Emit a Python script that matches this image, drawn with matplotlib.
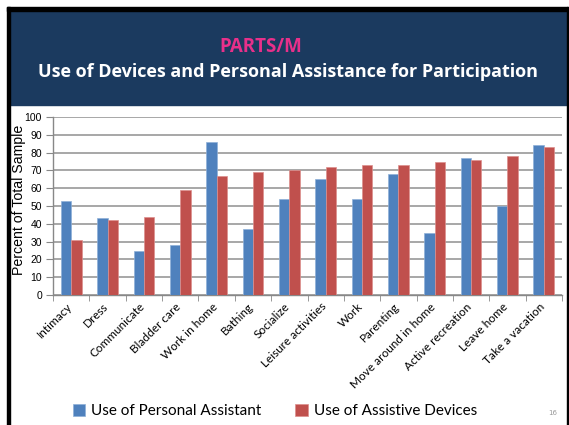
import matplotlib
matplotlib.use("Agg")
import matplotlib.pyplot as plt
import matplotlib.transforms as mtransforms
import numpy as np
from matplotlib.patches import Rectangle

categories = ["Intimacy", "Dress", "Communicate", "Bladder care", "Work in home",
              "Bathing", "Socialize", "Leisure activities", "Work", "Parenting",
              "Move around in home", "Active recreation", "Leave home", "Take a vacation"]
personal_assistant = [53, 43, 25, 28, 86, 37, 54, 65, 54, 68, 35, 77, 50, 84]
assistive_devices = [31, 42, 44, 59, 67, 69, 70, 72, 73, 73, 75, 76, 78, 83]
yticks = list(range(0, 101, 10))

W, H = 569, 425
fig = plt.figure(figsize=(W / 100, H / 100), dpi=100)
fig.patch.set_facecolor("white")

def px(x0, y0, x1, y1):
    # pixel box (top-left origin) -> figure fraction rect
    return (x0 / W, 1 - y1 / H, (x1 - x0) / W, (y1 - y0) / H)

# header band and frame
r = px(10, 11, 567, 105)
fig.patches.append(Rectangle(r[:2], r[2], r[3], transform=fig.transFigure, color="#1b3a5f", zorder=0))
r = px(7, 7, 568, 11)
fig.patches.append(Rectangle(r[:2], r[2], r[3], transform=fig.transFigure, color="black", zorder=0))
r = px(7, 7, 10, 425)
fig.patches.append(Rectangle(r[:2], r[2], r[3], transform=fig.transFigure, color="black", zorder=0))
r = px(567, 7, 568, 425)
fig.patches.append(Rectangle(r[:2], r[2], r[3], transform=fig.transFigure, color="black", zorder=0))

fig.text(261 / W, 1 - 47 / H, "PARTS/M", color="#e8308a", fontsize=13.5,
         fontweight="bold", family="Open Sans", ha="center", va="center")
fig.text(288 / W, 1 - 72 / H, "Use of Devices and Personal Assistance for Participation",
         color="white", fontsize=13.0, fontweight="bold", family="Open Sans",
         ha="center", va="center")

ax = fig.add_axes(px(53, 117, 562, 295))
x = np.arange(len(categories))
bw = 1 / 3.5
ax.bar(x - bw / 2, personal_assistant, bw, color="#4f81bd", edgecolor="#8fb0d8",
       linewidth=0.5, zorder=3, label="Use of Personal Assistant")
ax.bar(x + bw / 2, assistive_devices, bw, color="#c0504d", edgecolor="#dd8f8d",
       linewidth=0.5, zorder=3, label="Use of Assistive Devices")

ax.set_xlim(-0.5, len(categories) - 0.5)
ax.set_ylim(0, 100)
ax.set_yticks(yticks)
ax.set_yticklabels([str(v) for v in yticks], fontsize=7.5, family="Liberation Sans")
ax.yaxis.grid(True, color="#a0a0a0", linewidth=1.3, zorder=0)
ax.set_axisbelow(True)
for s in ["top", "right"]:
    ax.spines[s].set_visible(False)
for s in ["left", "bottom"]:
    ax.spines[s].set_color("#888888")
    ax.spines[s].set_linewidth(1.0)
ax.tick_params(axis="y", length=5, color="#888888", pad=3)

ax.set_xticks(x)
ax.set_xticklabels(categories, rotation=45, ha="right", rotation_mode="anchor",
                   fontsize=8.5, family="Lato")
ax.tick_params(axis="x", which="major", length=0, pad=5)
offset = mtransforms.ScaledTranslation(-5 / 100, 1 / 100, fig.dpi_scale_trans)
for lbl in ax.get_xticklabels():
    lbl.set_transform(lbl.get_transform() + offset)
ax.set_xticks(np.arange(-0.5, len(categories), 1), minor=True)
ax.tick_params(axis="x", which="minor", length=4, color="#888888")

fig.text(19 / W, 1 - 200 / H, "Percent of Total Sample", fontsize=10.2,
         family="Liberation Sans", rotation=90, ha="center", va="center")

handles, labels = ax.get_legend_handles_labels()
leg = fig.legend(handles, labels, loc="center", bbox_to_anchor=(275 / W, 1 - 411 / H),
                 ncol=2, frameon=False, prop={"family": "Lato", "size": 11},
                 handlelength=0.8, handleheight=0.8, handletextpad=0.4, columnspacing=2.2)

fig.text(553 / W, 1 - 413 / H, "16", color="#999999", fontsize=5, ha="center", va="center")

fig.savefig("out.png", dpi=100)
